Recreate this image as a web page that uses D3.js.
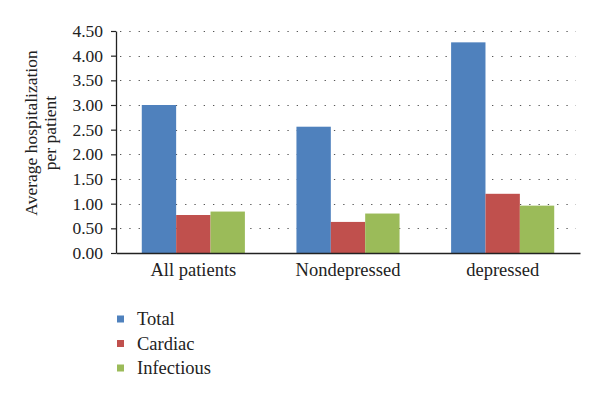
<!DOCTYPE html>
<html><head><meta charset="utf-8">
<script src="https://cdn.jsdelivr.net/npm/d3@7"></script>
<style>body{margin:0;background:#fff}svg{display:block}text{font-family:"Liberation Serif","Times New Roman",serif;fill:#222}</style>
</head><body><svg id="c" width="600" height="400"></svg>
<script>
const categories = ["All patients", "Nondepressed", "depressed"];
const seriesNames = ["Total", "Cardiac", "Infectious"];
const totalValues = [3.00, 2.56, 4.27];
const cardiacValues = [0.77, 0.63, 1.20];
const infectiousValues = [0.84, 0.80, 0.96];
const yTicks = [0, 0.5, 1, 1.5, 2, 2.5, 3, 3.5, 4, 4.5];
const colors = ["#4f81bd", "#c0504d", "#9bbb59"];
const seriesValues = [totalValues, cardiacValues, infectiousValues];

const svg = d3.select("#c");
const mLeft = 116, mRight = 580, mTop = 31, mBottom = 253;
const x0 = d3.scaleBand().domain(categories).range([mLeft, mRight]).paddingInner(0).paddingOuter(0);
const x1 = d3.scaleBand().domain(seriesNames).range([0, x0.bandwidth()]).paddingInner(0).paddingOuter(0.75);
const y = d3.scaleLinear().domain([0, 4.5]).range([mBottom, mTop]);

// dotted gridlines
svg.append("g").selectAll("line").data(yTicks.filter(d => d > 0)).join("line")
  .attr("x1", mLeft + 4).attr("x2", mRight - 4)
  .attr("y1", d => Math.round(y(d)) + 0.5).attr("y2", d => Math.round(y(d)) + 0.5)
  .attr("stroke", "#555").attr("stroke-width", 1.2)
  .attr("stroke-dasharray", "1.3,8");

// bars
const g = svg.append("g");
categories.forEach((c, i) => {
  seriesNames.forEach((s, j) => {
    g.append("rect")
      .attr("x", x0(c) + x1(s))
      .attr("y", y(seriesValues[j][i]))
      .attr("width", x1.bandwidth())
      .attr("height", y(0) - y(seriesValues[j][i]))
      .attr("fill", colors[j]);
  });
});

// y axis
const yAxis = d3.axisLeft(y).tickValues(yTicks).tickFormat(d3.format(".2f")).tickSizeInner(5).tickSizeOuter(0).tickPadding(8);
const ya = svg.append("g").attr("transform", `translate(${mLeft},0)`).call(yAxis);
ya.select(".domain").attr("stroke", "#222").attr("stroke-width", 1.3);
ya.selectAll(".tick line").attr("stroke", "#222").attr("stroke-width", 1.2);
ya.selectAll("text").style("font-size", "17.5px").attr("fill", "#222").style("font-family", '"Liberation Serif",serif');

// x axis
const xAxis = d3.axisBottom(x0).tickSize(0).tickPadding(10);
const xa = svg.append("g").attr("transform", `translate(0,${mBottom})`).call(xAxis);
xa.select(".domain").attr("stroke", "#222").attr("stroke-width", 1.3);
xa.selectAll("text").style("font-size", "18.5px").attr("fill", "#222").style("font-family", '"Liberation Serif",serif');

// y title
const yt = svg.append("text").attr("transform", "translate(37,133) rotate(-90)").attr("text-anchor", "middle").style("font-size", "17.5px");
yt.append("tspan").attr("x", 0).attr("dy", 0).text("Average hospitalization");
yt.append("tspan").attr("x", 0).attr("dy", 19).text("per patient");

// legend
const lg = svg.append("g");
seriesNames.forEach((s, j) => {
  const cy = 319 + j * 24.5;
  lg.append("rect").attr("x", 117).attr("y", cy - 3.5).attr("width", 7).attr("height", 7).attr("fill", colors[j]);
  lg.append("text").attr("x", 137).attr("y", cy + 6).style("font-size", "18.5px").text(s);
});
</script></body></html>
